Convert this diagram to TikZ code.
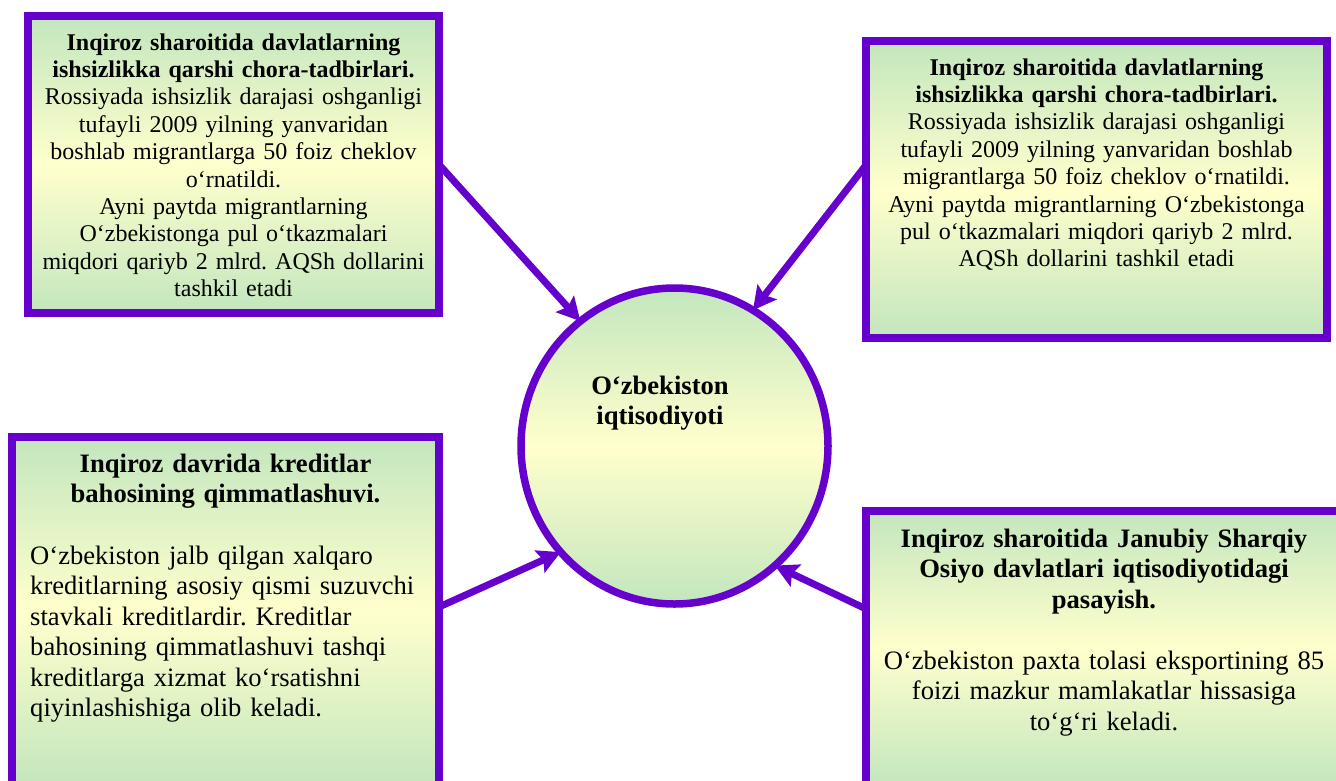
\documentclass[tikz,border=0pt]{standalone}
\usepackage{fontspec}
\setmainfont{Liberation Serif}
\usetikzlibrary{shapes.geometric,arrows.meta,calc}
\definecolor{vio}{RGB}{102,0,204}
\definecolor{gr}{RGB}{195,230,190}
\definecolor{ye}{RGB}{255,255,204}
\frenchspacing
\begin{document}
\begin{tikzpicture}[x=1pt,y=-1pt,
  panel/.style={draw=vio, line width=8pt, rectangle, top color=gr, bottom color=gr, middle color=ye, inner sep=0pt, outer sep=0pt},
  hub/.style={draw=vio, line width=7.5pt, ellipse, top color=gr, bottom color=gr, middle color=ye, inner sep=0pt, outer sep=0pt, minimum width=307pt, minimum height=316pt},
  txtA/.style={anchor=base, inner sep=0pt, align=center, font=\fontsize{24}{27.4}\selectfont},
  txtB/.style={anchor=base, inner sep=0pt, align=center, font=\fontsize{26.6}{30.5}\selectfont},
  link/.style={draw=vio, line width=7pt, -{Stealth[length=23pt,width=24pt,inset=4pt]}}
]
\useasboundingbox (0,0) rectangle (1336,780);
\clip (0,0) rectangle (1336,780);

% boxes
\node[panel, minimum width=411pt, minimum height=297pt] (b1) at (233.5,164.5) {};
\node[panel, minimum width=461pt, minimum height=297pt] (b2) at (1096.5,189.5) {};
\node[panel, minimum width=427pt, minimum height=349pt] (b3) at (225.5,611.5) {};
\node[panel, minimum width=476pt, minimum height=275pt] (b4) at (1104,648.5) {};
\node[hub] (hub) at (674.5,446) {};

% texts
\node[txtA, text width=400pt] (t1) at (233.5,50) {\bfseries Inqiroz sharoitida davlatlarning\\ ishsizlikka qarshi chora-tadbirlari.\\ \mdseries Rossiyada ishsizlik darajasi oshganligi\\ tufayli 2009 yilning yanvaridan\\ boshlab migrantlarga 50 foiz cheklov\\ o‘rnatildi.\\ Ayni paytda migrantlarning\\ O‘zbekistonga pul o‘tkazmalari\\ miqdori qariyb 2 mlrd. AQSh dollarini\\ tashkil etadi};

\node[txtA, text width=450pt] (t2) at (1096.5,75) {\bfseries Inqiroz sharoitida davlatlarning\\ ishsizlikka qarshi chora-tadbirlari.\\ \mdseries Rossiyada ishsizlik darajasi oshganligi\\ tufayli 2009 yilning yanvaridan boshlab\\ migrantlarga 50 foiz cheklov o‘rnatildi.\\ Ayni paytda migrantlarning O‘zbekistonga\\ pul o‘tkazmalari miqdori qariyb 2 mlrd.\\ AQSh dollarini tashkil etadi};

\node[txtB, text width=415pt] (t3a) at (225.5,472) {\bfseries Inqiroz davrida kreditlar\\ bahosining qimmatlashuvi.};
\node[txtB, anchor=base west, align=left, text width=405pt] (t3b) at (30,564) {O‘zbekiston jalb qilgan xalqaro\\ kreditlarning asosiy qismi suzuvchi\\ stavkali kreditlardir. Kreditlar\\ bahosining qimmatlashuvi tashqi\\ kreditlarga xizmat ko‘rsatishni\\ qiyinlashishiga olib keladi.};

\node[txtB, text width=465pt] (t4) at (1104,547) {\bfseries Inqiroz sharoitida Janubiy Sharqiy\\ Osiyo davlatlari iqtisodiyotidagi\\ pasayish.\\[30.5pt] \mdseries O‘zbekiston paxta tolasi eksportining 85\\ foizi mazkur mamlakatlar hissasiga\\ to‘g‘ri keladi.};

\node[txtB, text width=250pt] (tc) at (660,394) {\bfseries O‘zbekiston\\ iqtisodiyoti};

% connectors
\draw[link] (b1.east) -- (hub.127);
\draw[link] ($(b2.north west)!0.4175!(b2.south west)$) -- (hub.60);
\draw[link] ($(b3.north east)!0.487!(b3.south east)$) -- (hub.223);
\draw[link] ($(b4.north west)!0.356!(b4.south west)$) -- (hub.310);
\end{tikzpicture}
\end{document}
